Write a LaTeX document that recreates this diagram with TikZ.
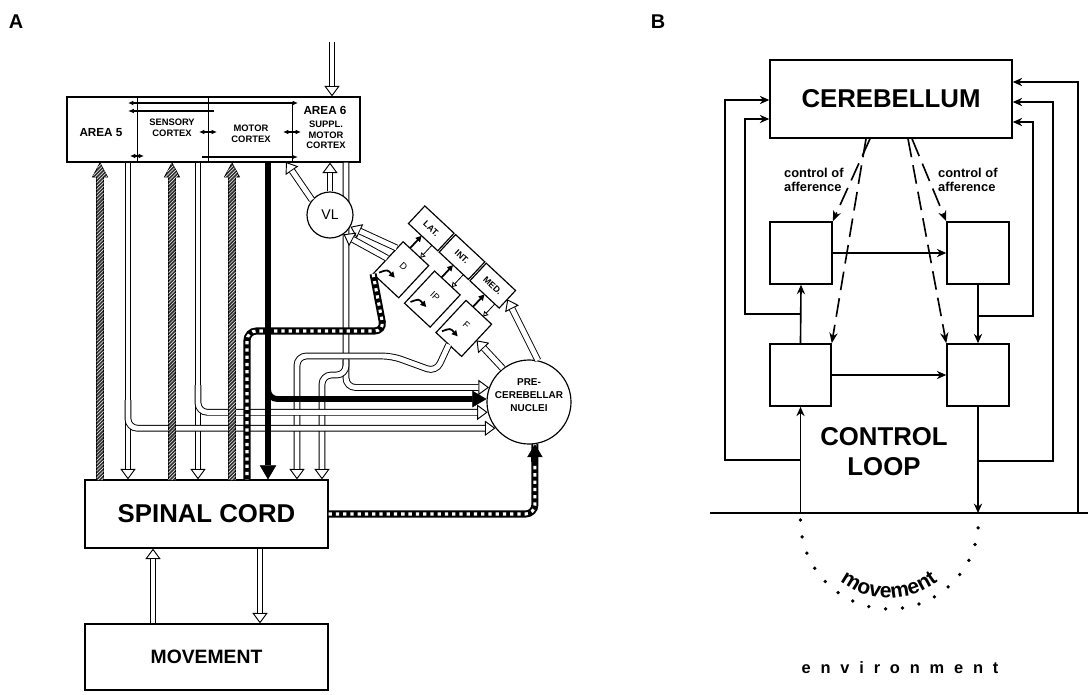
\documentclass[tikz,border=0pt]{standalone}
\usepackage{fontspec}
\setmainfont{Liberation Sans}
\usetikzlibrary{arrows.meta,fit,patterns,decorations.text}

\tikzset{
  box/.style={draw, line width=1pt, inner sep=0pt},
  lab/.style={font=\bfseries\fontsize{8}{9}\selectfont, align=center, inner sep=1pt},
  thinline/.style={line width=0.7pt},
  tarr/.style={line width=0.9pt, -{Latex[length=5pt, width=4pt]}},
  tarrs/.style={line width=0.9pt, {Latex[length=4.5pt, width=4pt]}-{Latex[length=4.5pt, width=4pt]}},
  hchan/.style={draw, line width=0.8pt, double=white, double distance=4.2pt},
  hollow/.style={hchan, shorten >=9pt,
    preaction={draw, line width=0.8pt, shorten >=0pt,
      -{Triangle[open, fill=white, length=9pt, width=13pt]}}},
  blk/.style={line width=5pt, -{Triangle[length=12pt, width=14pt, line width=0.4pt]}},
  chk/.style={line width=6pt, rounded corners=8pt,
    postaction={draw, white, line width=2.6pt, dash pattern=on 2.8pt off 3.4pt}},
  hatchbar/.style={draw, line width=0.7pt, fill=black!80,
    postaction={pattern=north east lines, pattern color=white}},
  nucbox/.style={draw, fill=white, line width=1pt},
  big/.style={font=\bfseries\fontsize{22}{22}\selectfont},
  barr/.style={line width=1.4pt, -{Stealth[length=8pt, width=7pt]}},
  dasharr/.style={line width=1.4pt, dash pattern=on 16pt off 7pt, -{Stealth[length=9pt, width=7pt]}},
}

\begin{document}
\begin{tikzpicture}[x=0.03cm, y=-0.03cm]
  \useasboundingbox (0,0) rectangle (1088,694);
  % Panel letters
  \node[font=\bfseries\fontsize{17}{17}\selectfont] (panA) at (16,22) {A};
  \node[font=\bfseries\fontsize{17}{17}\selectfont] (panB) at (658,22) {B};

  % ---------------- Panel A
  % Cortex
  \node[box, fit={(67,97) (360,162)}] (cortex) {};
  \draw[thinline] (137,97) -- (137,162);
  \draw[thinline] (208,97) -- (208,162);
  \draw[thinline] (292,104) -- (292,162);
  \node[lab, font=\bfseries\fontsize{10}{10}\selectfont] (area5) at (101,133) {AREA 5};
  \node[lab] (sensory) at (172,128) {SENSORY\\CORTEX};
  \node[lab] (motor) at (251,134) {MOTOR\\CORTEX};
  \node[lab, font=\bfseries\fontsize{10}{10}\selectfont] (area6) at (325,110) {AREA 6};
  \node[lab] (suppl) at (326,135) {SUPPL.\\MOTOR\\CORTEX};
  \draw[tarrs] (128,103) -- (298,103);
  \draw[tarr] (214,111) -- (128,111);
  \draw[tarr] (202,157) -- (298,157);
  \draw[tarrs] (199,132) -- (217,132);
  \draw[tarrs] (283,132) -- (301,132);
  \draw[tarrs] (130,156) -- (144,156);

  % Spinal cord and movement
  \node[box, fit={(85,480) (328,548)}] (spinal) {};
  \node[big] (spinaltxt) at (spinal) {SPINAL CORD};
  \node[box, fit={(85,624) (328,690)}] (movement) {};
  \node[font=\bfseries\fontsize{16.5}{16.5}\selectfont] (movementtxt) at (movement) {MOVEMENT};

  % Pre-cerebellar nuclei
  \node[circle, draw, line width=1pt, fill=white, minimum size=2.52cm] (pcn) at (529,402) {};
  \node[lab, font=\bfseries\fontsize{8.5}{11}\selectfont] (pcnlab) at (529,395) {PRE-\\CEREBELLAR\\NUCLEI};

  % Cerebellar nuclei
  \begin{scope}[shift={(462,257)}, rotate=-43]
    \foreach \nm/\lx/\txt in {lat/-42/LAT., int/0/INT., med/42/MED.}{
      \filldraw[nucbox] (\lx-20,-12) rectangle (\lx+20,12);
      \node[transform shape, inner sep=0pt, font=\bfseries\fontsize{7.5}{7.5}\selectfont] (\nm) at (\lx,0) {\txt};
    }
    \foreach \nm/\lx/\txt in {nd/-36/D, nip/7/IP, nf/50/F}{
      \filldraw[nucbox] (\lx-17.5,29) rectangle (\lx+17.5,73);
      \node[transform shape, inner sep=0pt, font=\fontsize{8}{8}\selectfont] (\nm) at (\lx,47) {\txt};
      \draw[line width=1.5pt, -{Triangle[length=5pt, width=5pt]}] (\lx-8,29) -- (\lx-8,12);
      \draw[thinline, -{Triangle[open, length=4pt, width=5pt]}] (\lx+6,12) -- (\lx+6,29);
      \draw[line width=1.5pt, -{Triangle[length=5pt, width=5pt]}] (\lx-14,68) .. controls (\lx-10,60) .. (\lx+1,61);
    }
    \coordinate (dvl1) at (-54,38);
    \coordinate (dvl2) at (-54,52);
    \coordinate (ndsw) at (-53.5,73);
    \coordinate (nfs) at (50,73);
    \coordinate (nfe) at (67.5,51);
    \coordinate (mede) at (62,0);
  \end{scope}

  % Hollow pathways
  \coordinate (inp) at (332,42);
  \draw[hollow] (inp) -- (cortex.north -| 332,0);
  \draw[hollow] (movement.north -| 153,0) -- (spinal.south -| 153,0);
  \draw[hollow] (spinal.south -| 260,0) -- (movement.north -| 260,0);
  \draw[hollow] (cortex.south -| 128,0) -- (spinal.north -| 128,0);
  \draw[hollow] (cortex.south -| 198,0) -- (spinal.north -| 198,0);
  \draw[hollow, rounded corners=8pt] (cortex.south -| 346,0) |- (pcn.160);
  \draw[hollow, rounded corners=8pt] (346,360) -- (346,375) -- (322,375) -- (spinal.north -| 322,0);
  \draw[hollow, rounded corners=8pt] (nfs) -- (436,372) -- (392,356) -- (297,356) -- (spinal.north -| 297,0);
  \draw[hollow, rounded corners=8pt] (198,385) |- (pcn.194);
  \draw[hollow, rounded corners=8pt] (128,400) |- (pcn.218);

  % Hatched pathways
  \foreach \hx in {100,172,232}
    \filldraw[hatchbar] (\hx-3.5,480) -- (\hx-3.5,177) -- (\hx-7.5,177) -- (\hx,163)
      -- (\hx+7.5,177) -- (\hx+3.5,177) -- (\hx+3.5,480);

  % Checkered pathways
  \draw[chk] (ndsw) -- (384,331) -- (247,331) -- (spinal.north -| 247,0);
  \draw[chk] (spinal.east) -| (pcn.-82);
  \draw[line width=6pt, -{Triangle[length=11pt, width=13pt, line width=0.4pt]}] (pcn.-82 |- 0,462) -- (pcn.-82);

  % Black pathway
  \draw[blk] (cortex.south -| 268,0) -- (spinal.north -| 268,0);
  \draw[blk, rounded corners=8pt] (268,370) |- (pcn.176);

  % VL
  \node[circle, draw, line width=1pt, fill=white, minimum size=1.38cm, inner sep=0pt,
    font=\fontsize{12}{12}\selectfont] (vl) at (330,215) {VL};
  \draw[hollow] (vl.140) -- (286,162);
  \draw[hollow] (vl.north) -- (vl.north |- cortex.south);
  \draw[hollow] (dvl1) -- (vl.-30);
  \draw[hollow] (dvl2) -- (vl.-55);
  \draw[hollow] (pcn.78) -- (mede);
  \draw[hollow] (pcn.128) -- (nfe);

  % ---------------- Panel B
  \node[box, line width=1.3pt, fit={(770,60) (1012,138)}] (cereb) {};
  \node[big] (cerebtxt) at (cereb) {CEREBELLUM};
  \node[box, line width=1.3pt, fit={(770,222) (832,284)}] (ul) {};
  \node[box, line width=1.3pt, fit={(947,222) (1009,284)}] (ur) {};
  \node[box, line width=1.3pt, fit={(770,344) (831,406)}] (ll) {};
  \node[box, line width=1.3pt, fit={(947,344) (1009,406)}] (lr) {};
  \coordinate (gl) at (710,513);
  \coordinate (gr) at (1088,513);
  \draw[line width=1.4pt] (gl) -- (gr);

  \draw[barr] (ul.east) -- (ur.west);
  \draw[barr] (ll.east) -- (lr.west);
  \draw[barr] (ll.north) -- (ul.south);
  \draw[barr] (ur.south) -- (lr.north);
  \draw[barr] (ll.south |- gl) -- (ll.south);
  \draw[barr] (lr.south) -- (lr.south |- gl);
  % Feedback to cerebellum
  \draw[barr] (ll.south |- 0,460) -| (725,100) -- (cereb.west |- 0,100);
  \draw[barr] (ul.south |- 0,314) -| (745,119) -- (cereb.west |- 0,119);
  \draw[barr] (1078,0 |- gl) |- (cereb.east |- 0,82);
  \draw[barr] (lr.south |- 0,461) -| (1053,102) -- (cereb.east |- 0,102);
  \draw[barr] (ur.south |- 0,316) -| (1033,122) -- (cereb.east |- 0,122);
  % Control of afference
  \draw[dasharr] (cereb.south -| 870,0) -- (ul.north east);
  \draw[dasharr] (cereb.south -| 866,0) -- (ll.north east);
  \draw[dasharr] (cereb.south -| 912,0) -- (ur.north west);
  \draw[dasharr] (cereb.south -| 908,0) -- (lr.north west);
  \node[anchor=west, align=left, font=\bfseries\fontsize{11}{12}\selectfont] (aff1) at (780,180) {control of\\afference};
  \node[anchor=west, align=left, font=\bfseries\fontsize{11}{12}\selectfont] (aff2) at (934,180) {control of\\afference};
  \node[align=center, font=\bfseries\fontsize{22}{25.5}\selectfont] (loop) at (884,452) {CONTROL\\LOOP};

  % Movement in the environment
  \draw[line width=3.2pt, line cap=round, dash pattern=on 0pt off 14.5pt]
    (ll.south |- 0,520) arc[start angle=180, end angle=0, radius=89];
  \path[decorate, decoration={text along path, text align=center,
      text={|\bfseries\fontsize{18}{18}\selectfont|movement}}]
    (810,519) arc[start angle=180, end angle=0, radius=79];
  \node[font=\bfseries\fontsize{14}{14}\selectfont\addfontfeature{LetterSpace=60}] (env) at (900,668) {environment};
\end{tikzpicture}
\end{document}
